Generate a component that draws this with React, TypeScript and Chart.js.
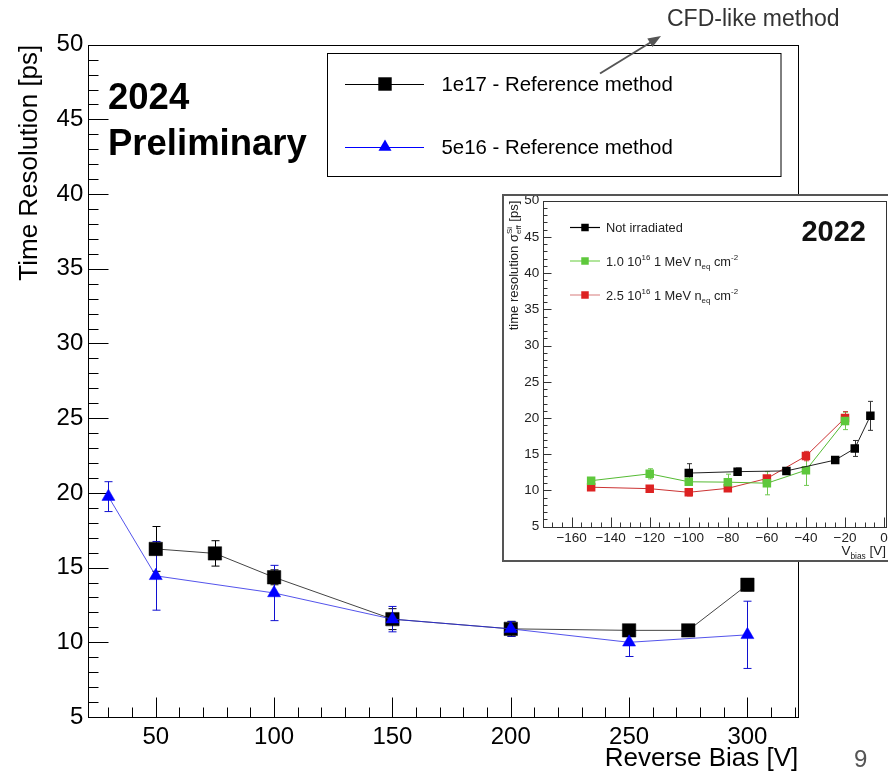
import React, { useEffect, useRef } from 'react';
import { Chart, registerables } from 'chart.js';
Chart.register(...registerables);

const FONT = '"Liberation Sans", Arial, Helvetica, sans-serif';

// ---------- main chart data (2024) ----------
const X_1E17 = [50, 75, 100, 150, 200, 250, 275, 300];
const Y_1E17 = [16.25, 15.95, 14.35, 11.55, 10.9, 10.8, 10.8, 13.85];
const E_1E17 = [1.5, 0.85, 0.5, 0.7, 0.5, 0.3, 0.3, 0.4];
const X_5E16 = [30, 50, 100, 150, 200, 250, 300];
const Y_5E16 = [19.75, 14.45, 13.3, 11.55, 10.9, 10.0, 10.5];
const E_5E16 = [1.0, 2.3, 1.85, 0.85, 0.5, 0.95, 2.25];
const LABEL_1E17 = '1e17 - Reference method';
const LABEL_5E16 = '5e16 - Reference method';
const MAIN_X_TICKS = [50, 100, 150, 200, 250, 300];
const MAIN_Y_TICKS = [5, 10, 15, 20, 25, 30, 35, 40, 45, 50];
const MAIN_X_MIN = 21.5;
const MAIN_X_MAX = 321.5;
const MAIN_Y_MIN = 5;
const MAIN_Y_MAX = 50;

// ---------- inset data (2022) ----------
const IN_X_NOTIRR = [-100, -75, -50, -25, -15, -7];
const IN_Y_NOTIRR = [12.4, 12.6, 12.7, 14.2, 15.8, 20.3];
const IN_E_NOTIRR = [1.3, 0.5, 0.4, 0.2, 1.1, 2.0];
const IN_X_1E16 = [-150, -120, -100, -80, -60, -40, -20];
const IN_Y_1E16 = [11.35, 12.3, 11.2, 11.15, 11.0, 12.8, 19.6];
const IN_E_1E16 = [0.35, 0.7, 0.5, 1.1, 1.6, 2.1, 1.2];
const IN_X_25E16 = [-150, -120, -100, -80, -60, -40, -20];
const IN_Y_25E16 = [10.45, 10.25, 9.75, 10.3, 11.65, 14.75, 20.0];
const IN_E_25E16 = [0.3, 0.3, 0.5, 0.3, 0.4, 0.65, 0.9];
const IN_LABEL_NOTIRR = 'Not irradiated';
const IN_LABEL_1E16 = '1.0 10^{16} 1 MeV n_{eq} cm^{-2}';
const IN_LABEL_25E16 = '2.5 10^{16} 1 MeV n_{eq} cm^{-2}';
const IN_X_TICKS = [-160, -140, -120, -100, -80, -60, -40, -20, 0];
const IN_Y_TICKS = [5, 10, 15, 20, 25, 30, 35, 40, 45, 50];
const IN_X_MIN = -174.5;
const IN_X_MAX = 1;
const IN_Y_MIN = 5;
const IN_Y_MAX = 50;
const IN_X_TITLE = 'V_{bias} [V]';
const IN_Y_TITLE = 'time resolution \u03c3^{Si}_{eff} [ps]';

const pts = (xs: number[], ys: number[]) => xs.map((x, i) => ({ x, y: ys[i] }));

// ---------- helpers ----------
type Part = { t: string; k: 'n' | 'sup' | 'sub' };
function parseRich(s: string): Part[] {
  const parts: Part[] = [];
  const re = /\^\{([^}]*)\}|_\{([^}]*)\}/g;
  let last = 0;
  let m: RegExpExecArray | null;
  while ((m = re.exec(s))) {
    if (m.index > last) parts.push({ t: s.slice(last, m.index), k: 'n' });
    if (m[1] !== undefined) parts.push({ t: m[1], k: 'sup' });
    else parts.push({ t: m[2], k: 'sub' });
    last = re.lastIndex;
  }
  if (last < s.length) parts.push({ t: s.slice(last), k: 'n' });
  return parts;
}

function drawRich(ctx: CanvasRenderingContext2D, s: string, x: number, y: number, size: number, align: string, color: string) {
  const parts = parseRich(s);
  const items: { t: string; font: string; dx: number; dy: number }[] = [];
  let cx = 0;
  let supStart = 0;
  let supW = 0;
  parts.forEach((p, i) => {
    const fs = p.k === 'n' ? size : size * 0.62;
    const font = `${fs}px ${FONT}`;
    ctx.font = font;
    const w = ctx.measureText(p.t).width;
    const dy = p.k === 'sup' ? -size * 0.42 : p.k === 'sub' ? size * 0.3 : 0;
    if (p.k === 'sub' && i > 0 && parts[i - 1].k === 'sup') {
      items.push({ t: p.t, font, dx: supStart, dy });
      cx = supStart + Math.max(supW, w);
      return;
    }
    if (p.k === 'sup') {
      supStart = cx;
      supW = w;
    }
    items.push({ t: p.t, font, dx: cx, dy });
    cx += w;
  });
  const x0 = align === 'right' ? x - cx : align === 'center' ? x - cx / 2 : x;
  ctx.fillStyle = color;
  ctx.textAlign = 'left';
  ctx.textBaseline = 'alphabetic';
  items.forEach((it) => {
    ctx.font = it.font;
    ctx.fillText(it.t, x0 + it.dx, y + it.dy);
  });
}

function drawMarker(ctx: CanvasRenderingContext2D, style: string, x: number, y: number, r: number, fill: string) {
  ctx.save();
  ctx.fillStyle = fill;
  ctx.beginPath();
  if (style === 'triangle') {
    let rad = 0;
    ctx.moveTo(x + Math.sin(rad) * r, y - Math.cos(rad) * r);
    rad += (2 * Math.PI) / 3;
    ctx.lineTo(x + Math.sin(rad) * r, y - Math.cos(rad) * r);
    rad += (2 * Math.PI) / 3;
    ctx.lineTo(x + Math.sin(rad) * r, y - Math.cos(rad) * r);
    ctx.closePath();
  } else {
    const s = Math.SQRT1_2 * r;
    ctx.rect(x - s, y - s, 2 * s, 2 * s);
  }
  ctx.fill();
  ctx.restore();
}

const errorBarsPlugin = {
  id: 'errorBars',
  beforeDatasetsDraw(chart: any, _args: any, opts: any) {
    const ctx = chart.ctx as CanvasRenderingContext2D;
    const xs = chart.scales.x;
    const ys = chart.scales.y;
    const cap = opts.cap ?? 4;
    chart.data.datasets.forEach((ds: any) => {
      if (!ds.errors) return;
      ctx.save();
      ctx.strokeStyle = ds.errorColor || ds.borderColor;
      ctx.lineWidth = ds.errorWidth || 1;
      ds.data.forEach((p: any, i: number) => {
        const e = ds.errors[i];
        const px = Math.round(xs.getPixelForValue(p.x)) + 0.5;
        const y1 = ys.getPixelForValue(p.y + e);
        const y2 = ys.getPixelForValue(p.y - e);
        ctx.beginPath();
        ctx.moveTo(px, y1);
        ctx.lineTo(px, y2);
        ctx.moveTo(px - cap, y1);
        ctx.lineTo(px + cap, y1);
        ctx.moveTo(px - cap, y2);
        ctx.lineTo(px + cap, y2);
        ctx.stroke();
      });
      ctx.restore();
    });
  },
};

function minorValues(min: number, max: number, step: number, majors: number[]) {
  const out: number[] = [];
  const start = Math.ceil(min / step - 1e-9);
  const end = Math.floor(max / step + 1e-9);
  for (let k = start; k <= end; k++) {
    const v = Math.round(k * step * 1000) / 1000;
    if (!majors.includes(v)) out.push(v);
  }
  return out;
}

const frameTicksPlugin = {
  id: 'frameTicks',
  beforeDatasetsDraw(chart: any, _args: any, o: any) {
    const ctx = chart.ctx as CanvasRenderingContext2D;
    const a = chart.chartArea;
    const xs = chart.scales.x;
    const ys = chart.scales.y;
    ctx.save();
    ctx.strokeStyle = o.color;
    ctx.lineWidth = o.lineWidth;
    ctx.strokeRect(Math.round(a.left) + 0.5, Math.round(a.top) + 0.5, Math.round(a.right - a.left), Math.round(a.bottom - a.top));
    ctx.beginPath();
    const bottom = Math.round(a.bottom) + 0.5;
    const left = Math.round(a.left) + 0.5;
    o.xMajor.forEach((v: number) => {
      const px = Math.round(xs.getPixelForValue(v)) + 0.5;
      ctx.moveTo(px, bottom);
      ctx.lineTo(px, bottom - o.xMajorLen);
    });
    minorValues(xs.min, xs.max, o.xMinorStep, o.xMajor).forEach((v) => {
      const px = Math.round(xs.getPixelForValue(v)) + 0.5;
      ctx.moveTo(px, bottom);
      ctx.lineTo(px, bottom - o.xMinorLen);
    });
    o.yMajor.forEach((v: number) => {
      const py = Math.round(ys.getPixelForValue(v)) + 0.5;
      ctx.moveTo(left, py);
      ctx.lineTo(left + o.yMajorLen, py);
    });
    minorValues(ys.min, ys.max, o.yMinorStep, o.yMajor).forEach((v) => {
      const py = Math.round(ys.getPixelForValue(v)) + 0.5;
      ctx.moveTo(left, py);
      ctx.lineTo(left + o.yMinorLen, py);
    });
    ctx.stroke();
    ctx.restore();
  },
};

const mainDecorPlugin = {
  id: 'mainDecor',
  afterDraw(chart: any) {
    const ctx = chart.ctx as CanvasRenderingContext2D;
    ctx.save();
    // legend box
    ctx.strokeStyle = '#000';
    ctx.lineWidth = 1;
    ctx.strokeRect(327.5, 53.5, 453.5, 123);
    const rows = [84, 147];
    chart.data.datasets.forEach((ds: any, i: number) => {
      const y = rows[i];
      ctx.strokeStyle = ds.legendLine;
      ctx.lineWidth = 1;
      ctx.beginPath();
      ctx.moveTo(345, y + 0.5);
      ctx.lineTo(424, y + 0.5);
      ctx.stroke();
      drawMarker(ctx, ds.pointStyle, 385, y, ds.pointRadius, ds.pointBackgroundColor);
      ctx.fillStyle = '#000';
      ctx.font = `20.4px ${FONT}`;
      ctx.textAlign = 'left';
      ctx.textBaseline = 'middle';
      ctx.fillText(ds.label, 441.5, y + 1);
    });
    // 2024 Preliminary
    ctx.fillStyle = '#000';
    ctx.font = `bold 36.5px ${FONT}`;
    ctx.textAlign = 'left';
    ctx.textBaseline = 'alphabetic';
    ctx.fillText('2024', 108, 109);
    ctx.fillText('Preliminary', 108, 155);
    // CFD-like method annotation
    ctx.fillStyle = '#333';
    ctx.font = `23px ${FONT}`;
    ctx.textBaseline = 'middle';
    ctx.fillText('CFD-like method', 667, 20);
    const x1 = 600, y1 = 73.5, x2 = 661, y2 = 36;
    ctx.strokeStyle = '#555';
    ctx.lineWidth = 2;
    const ang = Math.atan2(y2 - y1, x2 - x1);
    ctx.beginPath();
    ctx.moveTo(x1, y1);
    ctx.lineTo(x2 - 10 * Math.cos(ang), y2 - 10 * Math.sin(ang));
    ctx.stroke();
    ctx.fillStyle = '#555';
    ctx.beginPath();
    ctx.moveTo(x2, y2);
    ctx.lineTo(x2 - 13 * Math.cos(ang) + 5 * Math.sin(ang), y2 - 13 * Math.sin(ang) - 5 * Math.cos(ang));
    ctx.lineTo(x2 - 13 * Math.cos(ang) - 5 * Math.sin(ang), y2 - 13 * Math.sin(ang) + 5 * Math.cos(ang));
    ctx.closePath();
    ctx.fill();
    // page number
    ctx.fillStyle = '#555';
    ctx.font = `24px ${FONT}`;
    ctx.textBaseline = 'alphabetic';
    ctx.fillText('9', 854, 767);
    ctx.restore();
  },
};

const insetDecorPlugin = {
  id: 'insetDecor',
  beforeDraw(chart: any) {
    const ctx = chart.ctx as CanvasRenderingContext2D;
    ctx.save();
    ctx.fillStyle = '#fff';
    ctx.fillRect(0, 0, chart.width, chart.height);
    ctx.restore();
  },
  afterDraw(chart: any) {
    const ctx = chart.ctx as CanvasRenderingContext2D;
    const a = chart.chartArea;
    ctx.save();
    // outer border
    ctx.strokeStyle = '#555';
    ctx.lineWidth = 2;
    ctx.strokeRect(1, 1, chart.width + 10, chart.height - 2);
    // legend
    const rows = [33.5, 67, 101];
    chart.data.datasets.forEach((ds: any, i: number) => {
      const y = rows[i];
      ctx.strokeStyle = ds.legendLine;
      ctx.lineWidth = 1.2;
      ctx.beginPath();
      ctx.moveTo(68, y);
      ctx.lineTo(98, y);
      ctx.stroke();
      drawMarker(ctx, 'rect', 83, y, 5.3, ds.pointBackgroundColor);
      drawRich(ctx, ds.label, 104, y + 4.5, 12.8, 'left', '#222');
    });
    // 2022
    ctx.fillStyle = '#111';
    ctx.font = `bold 29px ${FONT}`;
    ctx.textAlign = 'right';
    ctx.textBaseline = 'middle';
    ctx.fillText('2022', 364, 39);
    // x title
    drawRich(ctx, IN_X_TITLE, a.right, 361, 13.5, 'right', '#222');
    // y title (rotated)
    ctx.save();
    ctx.translate(11, a.top);
    ctx.rotate(-Math.PI / 2);
    drawRich(ctx, IN_Y_TITLE, 0, 4.5, 13, 'right', '#222');
    ctx.restore();
    ctx.restore();
  },
};

export default function App() {
  const mainRef = useRef<HTMLCanvasElement>(null);
  const insetRef = useRef<HTMLCanvasElement>(null);

  useEffect(() => {
    const main = new Chart(mainRef.current as HTMLCanvasElement, {
      type: 'line',
      data: {
        datasets: [
          {
            label: LABEL_1E17,
            data: pts(X_1E17, Y_1E17),
            errors: E_1E17,
            errorColor: '#000',
            borderColor: '#444',
            borderWidth: 1,
            pointStyle: 'rect',
            pointRadius: 9.5,
            pointBackgroundColor: '#000',
            pointBorderColor: '#000',
            pointBorderWidth: 0.5,
            legendLine: '#000',
            order: 2,
            fill: false,
          } as any,
          {
            label: LABEL_5E16,
            data: pts(X_5E16, Y_5E16),
            errors: E_5E16,
            errorColor: '#1010d0',
            borderColor: 'rgba(40,40,230,0.8)',
            borderWidth: 1,
            pointStyle: 'triangle',
            pointRadius: 7.5,
            pointBackgroundColor: '#0000ff',
            pointBorderColor: '#0000ff',
            pointBorderWidth: 0.5,
            legendLine: '#0000ff',
            order: 1,
            fill: false,
          } as any,
        ],
      },
      options: {
        animation: false,
        responsive: false,
        maintainAspectRatio: false,
        devicePixelRatio: 1,
        layout: { padding: { top: 44.7, right: 89.7, left: 0, bottom: 0 } },
        plugins: {
          legend: { display: false },
          tooltip: { enabled: false },
          errorBars: { cap: 4 },
          frameTicks: {
            color: '#000',
            lineWidth: 1,
            xMajor: MAIN_X_TICKS,
            yMajor: MAIN_Y_TICKS,
            xMinorStep: 10,
            yMinorStep: 1,
            xMajorLen: 20,
            xMinorLen: 10,
            yMajorLen: 20,
            yMinorLen: 10,
          },
        } as any,
        scales: {
          x: {
            type: 'linear',
            min: MAIN_X_MIN,
            max: MAIN_X_MAX,
            afterBuildTicks: (s: any) => {
              s.ticks = MAIN_X_TICKS.map((v) => ({ value: v }));
            },
            afterFit: (s: any) => {
              s.height = 58;
              s.paddingLeft = 0;
              s.paddingRight = 0;
            },
            grid: { display: false, drawTicks: false },
            border: { display: false },
            ticks: { font: { size: 24, family: FONT }, color: '#000', padding: 6, maxRotation: 0, autoSkip: false },
            title: {
              display: true,
              text: 'Reverse Bias [V]',
              align: 'end',
              font: { size: 26, family: FONT },
              color: '#000',
              padding: { top: 1, bottom: 1 },
            },
          },
          y: {
            type: 'linear',
            min: MAIN_Y_MIN,
            max: MAIN_Y_MAX,
            afterBuildTicks: (s: any) => {
              s.ticks = MAIN_Y_TICKS.map((v) => ({ value: v }));
            },
            afterFit: (s: any) => {
              s.width = 88.3;
              s.paddingTop = 0;
              s.paddingBottom = 0;
            },
            grid: { display: false, drawTicks: false },
            border: { display: false },
            ticks: { font: { size: 24, family: FONT }, color: '#000', padding: 5, autoSkip: false },
            title: {
              display: true,
              text: 'Time Resolution [ps]',
              align: 'end',
              font: { size: 26, family: FONT },
              color: '#000',
              padding: { top: 14, bottom: 14 },
            },
          },
        },
      } as any,
      plugins: [errorBarsPlugin, frameTicksPlugin, mainDecorPlugin],
    });

    const inset = new Chart(insetRef.current as HTMLCanvasElement, {
      type: 'line',
      data: {
        datasets: [
          {
            label: IN_LABEL_NOTIRR,
            data: pts(IN_X_NOTIRR, IN_Y_NOTIRR),
            errors: IN_E_NOTIRR,
            errorColor: '#333',
            borderColor: '#222',
            borderWidth: 1,
            pointStyle: 'rect',
            pointRadius: 6,
            pointBackgroundColor: '#000',
            pointBorderColor: '#000',
            pointBorderWidth: 0,
            legendLine: '#000',
            order: 1,
          } as any,
          {
            label: IN_LABEL_1E16,
            data: pts(IN_X_1E16, IN_Y_1E16),
            errors: IN_E_1E16,
            errorColor: '#6fc850',
            borderColor: '#55bb33',
            borderWidth: 1,
            pointStyle: 'rect',
            pointRadius: 6,
            pointBackgroundColor: '#5ec83c',
            pointBorderColor: '#5ec83c',
            pointBorderWidth: 0,
            legendLine: '#7cd35a',
            order: 2,
          } as any,
          {
            label: IN_LABEL_25E16,
            data: pts(IN_X_25E16, IN_Y_25E16),
            errors: IN_E_25E16,
            errorColor: '#cc4444',
            borderColor: '#cc3333',
            borderWidth: 1,
            pointStyle: 'rect',
            pointRadius: 6,
            pointBackgroundColor: '#dd2222',
            pointBorderColor: '#dd2222',
            pointBorderWidth: 0,
            legendLine: '#dd9090',
            order: 3,
          } as any,
        ],
      },
      options: {
        animation: false,
        responsive: false,
        maintainAspectRatio: false,
        devicePixelRatio: 1,
        layout: { padding: { top: 6.7, right: 10, left: 0, bottom: 0 } },
        plugins: {
          legend: { display: false },
          tooltip: { enabled: false },
          errorBars: { cap: 2.5 },
          frameTicks: {
            color: '#333',
            lineWidth: 1,
            xMajor: IN_X_TICKS,
            yMajor: IN_Y_TICKS,
            xMinorStep: 5,
            yMinorStep: 1,
            xMajorLen: 10,
            xMinorLen: 5,
            yMajorLen: 8,
            yMinorLen: 4,
          },
        } as any,
        scales: {
          x: {
            type: 'linear',
            min: IN_X_MIN,
            max: IN_X_MAX,
            afterBuildTicks: (s: any) => {
              s.ticks = IN_X_TICKS.map((v) => ({ value: v }));
            },
            afterFit: (s: any) => {
              s.height = 35.3;
              s.paddingLeft = 0;
              s.paddingRight = 0;
            },
            grid: { display: false, drawTicks: false },
            border: { display: false },
            ticks: {
              font: { size: 13.5, family: FONT },
              color: '#222',
              padding: 3,
              maxRotation: 0,
              autoSkip: false,
              callback: (v: any) => (v < 0 ? '\u2212' + Math.abs(v) : String(v)),
            },
          },
          y: {
            type: 'linear',
            min: IN_Y_MIN,
            max: IN_Y_MAX,
            afterBuildTicks: (s: any) => {
              s.ticks = IN_Y_TICKS.map((v) => ({ value: v }));
            },
            afterFit: (s: any) => {
              s.width = 41.3;
              s.paddingTop = 0;
              s.paddingBottom = 0;
            },
            grid: { display: false, drawTicks: false },
            border: { display: false },
            ticks: { font: { size: 13.5, family: FONT }, color: '#222', padding: 4, autoSkip: false },
          },
        },
      } as any,
      plugins: [insetDecorPlugin, errorBarsPlugin, frameTicksPlugin],
    });

    return () => {
      main.destroy();
      inset.destroy();
    };
  }, []);

  return (
    <div style={{ position: 'absolute', left: 0, top: 0, width: 888, height: 775, background: '#fff', overflow: 'hidden' }}>
      <canvas ref={mainRef} width={888} height={775} style={{ position: 'absolute', left: 0, top: 0, width: 888, height: 775 }} />
      <canvas ref={insetRef} width={394} height={368} style={{ position: 'absolute', left: 502, top: 194, width: 394, height: 368 }} />
    </div>
  );
}
